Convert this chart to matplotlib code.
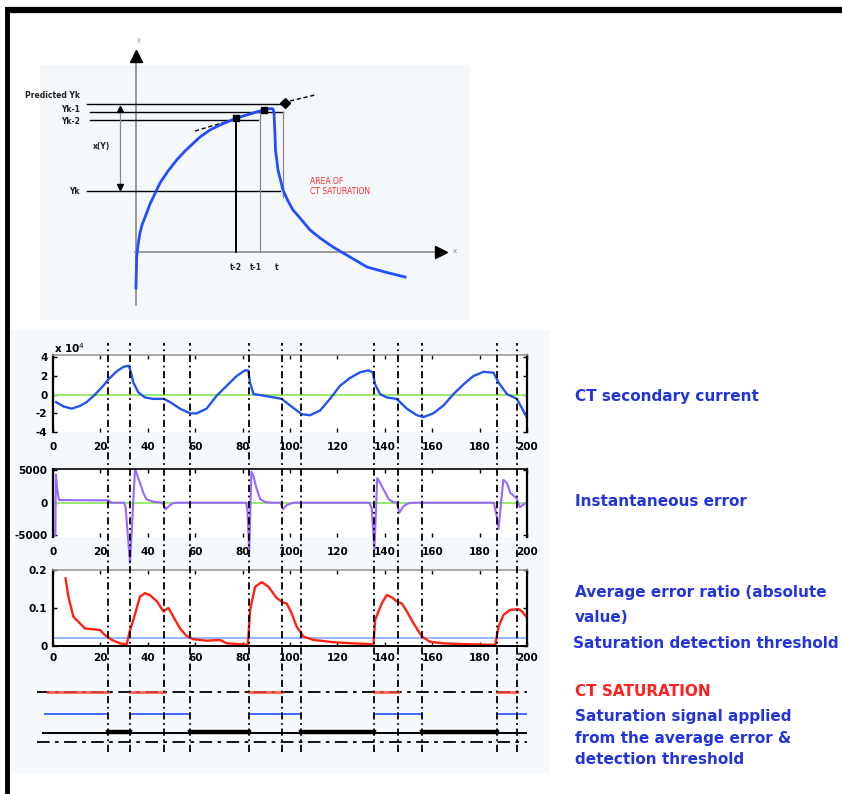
import matplotlib
matplotlib.use("Agg")
import matplotlib.pyplot as plt
from matplotlib.patches import Rectangle
import numpy as np

plt.rcParams["axes.unicode_minus"] = False

W, H = 842, 794

# ---------------- data ----------------
# CT secondary current (x1e4)
cur_t = [1.3, 4.4, 7.9, 11.4, 14.2, 17.7, 21.2, 23.4, 26.9, 29.7, 32.0, 32.8, 33.9, 36.0, 38.8, 42.3,
         46.8, 49.4, 53.6, 57.8, 60.6, 64.8, 69.1, 73.3, 77.5, 81.0, 82.4, 83.1, 84.6, 88.8, 94.4,
         96.5, 100.0, 105.0, 108.5, 112.7, 116.9, 121.1, 125.4, 129.6, 133.1, 134.9, 135.9, 138.0,
         140.8, 145.0, 149.3, 153.5, 156.3, 160.5, 164.8, 169.0, 173.2, 177.4, 181.7, 185.9, 188.0,
         191.5, 195.7, 199.7]
cur_v = [-0.8, -1.26, -1.5, -1.2, -0.8, 0.0, 0.95, 1.65, 2.5, 2.98, 3.1, 2.5, 1.3, 0.25, -0.3, -0.45,
         -0.45, -0.8, -1.5, -2.0, -2.0, -1.5, -0.1, 0.95, 2.0, 2.6, 2.6, 1.3, 0.07, -0.1, -0.35,
         -0.45, -1.15, -2.1, -2.2, -1.7, -0.45, 0.95, 1.8, 2.4, 2.6, 2.4, 1.1, 0.07,
         -0.3, -0.45, -1.5, -2.2, -2.4, -2.0, -1.15, 0.07, 1.1, 2.0, 2.45, 2.35, 1.3,
         0.07, -0.45, -2.3]

# Instantaneous error
err_t = [1.0, 1.2, 1.8, 2.5, 23.4, 24.5, 30.0, 30.6, 32.5, 34.6, 35.3, 36.7, 38.1, 39.5, 42.3, 46.0,
         46.5, 47.5, 49.0, 50.5, 52.0, 81.5, 82.0, 82.8, 83.7, 84.6, 86.0, 87.5, 89.5, 92.0,
         96.0, 97.0, 98.5, 100.5, 102.0, 133.5, 134.5, 135.6, 136.8, 138.1, 139.5, 141.7, 143.5,
         145.0, 146.2, 148.0, 150.0, 152.0, 186.0, 187.2, 188.0, 190.0, 191.5, 193.0, 195.5,
         197.0, 198.4, 200.0]
err_v = [-5000, 4300, 2000, 400, 350, 0, 0, -600, -9200, 5100, 4500, 3000, 1500, 500, 150, 0,
         -200, -1000, -500, -100, 0, 0, -1000, -7500, 4750, 4000, 2000, 500, 100, 0,
         0, -1000, -400, -100, 0, 0, -900, -7250, 3750, 3000, 2000, 500, 100,
         0, -1500, -500, -100, 0, 0, -2000, -4000, 3500, 3000, 1500, 700,
         -700, -300, 0]

# Average error ratio
avg_t = [5.3, 6.5, 8.6, 10.7, 13.5, 17.0, 19.8, 21.9, 24.8, 28.3, 31.1, 32.5, 33.9, 36.7, 38.8, 40.9,
         43.8, 46.6, 48.7, 50.8, 53.6, 56.4, 59.2, 64.9, 70.5, 73.3, 80.3, 82.2, 83.2, 85.3, 88.1,
         90.9, 94.4, 97.2, 98.6, 100.7, 102.8, 105.7, 109.9, 118.3, 126.8, 133.8, 135.2, 135.9,
         138.7, 140.8, 143.0, 145.1, 147.2, 149.3, 152.1, 155.6, 159.1, 164.8, 173.2, 186.6, 188.0,
         190.1, 192.9, 196.5, 197.9, 199.7]
avg_v = [0.178, 0.13, 0.077, 0.064, 0.046, 0.044, 0.042, 0.029, 0.016, 0.007, 0.004, 0.042, 0.068,
         0.13, 0.139, 0.134, 0.118, 0.091, 0.1, 0.077, 0.046, 0.026, 0.018, 0.014, 0.016, 0.007,
         0.004, 0.003, 0.096, 0.156, 0.168, 0.156, 0.126, 0.114, 0.112, 0.086, 0.051, 0.025,
         0.016, 0.01, 0.007, 0.005, 0.003, 0.068, 0.112, 0.134, 0.128, 0.117, 0.112, 0.091,
         0.06, 0.025, 0.011, 0.007, 0.005, 0.003, 0.051, 0.082, 0.095, 0.097, 0.091, 0.077]
threshold = 0.02

# event markers (vertical dash-dot lines)
events = [23.4, 32.5, 46.9, 57.8, 82.5, 96.5, 104.7, 135.3, 145.5, 155.7, 187.3, 195.8]

# CT saturation intervals
sat_start = [-2.0, 32.5, 82.5, 135.3, 187.3]
sat_end = [23.4, 46.9, 96.5, 145.5, 195.8]
# detected saturation signal intervals
det_start = [-3.4, 32.5, 82.5, 135.3, 187.3]
det_end = [23.4, 57.8, 104.7, 155.7, 200.0]

xticks = [0, 20, 40, 60, 80, 100, 120, 140, 160, 180, 200]

# top sketch: saturation curve (diagram units, origin at axes crossing)
sk_x = [0, 0.7, 2, 4, 6, 10.7, 14, 24, 32, 40.7, 49, 64, 74, 84, 100.7, 114, 127, 134, 137, 138,
        138.8, 139.5, 142, 147, 152, 157, 164, 174, 184, 197, 214, 231, 249, 269]
sk_y = [-36, -5, 7, 19, 27, 39, 48, 69, 81, 92, 101, 115, 122, 127, 134, 138, 142, 143.5, 143, 139,
        122, 102, 82, 62, 51, 42, 34, 22, 14, 5, -5, -15, -20, -25]

# ---------------- figure ----------------
fig = plt.figure(figsize=(W / 100, H / 100), dpi=100)

def box(x0, y0, x1, y1):
    return [x0 / W, 1 - y1 / H, (x1 - x0) / W, (y1 - y0) / H]

bg = fig.add_axes([0, 0, 1, 1], zorder=0)
bg.set_xlim(0, W)
bg.set_ylim(H, 0)
bg.axis("off")
bg.add_patch(Rectangle((40, 65), 430, 255, color="#f5f8fb", lw=0))
bg.add_patch(Rectangle((9, 330), 540, 443, color="#f6f9fc", lw=0))
bg.plot([5, W], [10, 10], color="black", lw=4.5, solid_capstyle="butt")
bg.plot([7, 7], [8, H], color="black", lw=3.5, solid_capstyle="butt")

TXT = "#2434dc"
lab = dict(fontsize=11, fontweight="bold", color=TXT, va="center", ha="left")
bg.text(575, 397, "CT secondary current", **lab)
bg.text(575, 502, "Instantaneous error", **lab)
bg.text(575, 593, "Average error ratio (absolute", **lab)
bg.text(575, 617, "value)", **lab)
bg.text(573, 643, "Saturation detection threshold", **lab)
bg.text(575, 692, "CT SATURATION", fontsize=11, fontweight="bold", color="#ff2020",
        va="center", ha="left")
bg.text(575, 717, "Saturation signal applied", **lab)
bg.text(575, 738, "from the average error &", **lab)
bg.text(575, 759, "detection threshold", **lab)

# ---------------- top sketch ----------------
ox, oy = 136, 252
sk = fig.add_axes(box(20, 30, 480, 320), zorder=1)
sk.set_xlim(20 - ox, 480 - ox)
sk.set_ylim(oy - 320, oy - 30)
sk.axis("off")
sk.patch.set_alpha(0)
gray = "#8a8a8a"
sk.plot([0, 0], [oy - 305, oy - 62], color=gray, lw=1.2)
sk.plot(0, oy - 56, marker="^", color="black", ms=8)
sk.plot([-1, 434 - ox], [0, 0], color=gray, lw=1.2)
sk.plot(441 - ox, 0, marker=">", color="black", ms=8)
sk.text(3, oy - 40, "y", fontsize=5, color=gray, ha="center", va="center")
sk.text(455 - ox, 1, "x", fontsize=5, color=gray, ha="center", va="center")

def py(p):
    return oy - p

def px(p):
    return p - ox

sk.plot([px(87), px(285)], [py(104), py(104)], color="black", lw=1.0)
sk.plot([px(90), px(283)], [py(112), py(112)], color="black", lw=1.0)
sk.plot([px(90), px(258)], [py(120), py(120)], color="black", lw=1.0)
sk.plot([px(87), px(280)], [py(191), py(191)], color="black", lw=1.0)
sk.plot([px(236), px(236)], [py(118), 0], color="black", lw=1.4)
sk.plot([px(260), px(260)], [py(112), 0], color=gray, lw=0.9)
sk.plot([px(283), px(283)], [py(112), py(197)], color=gray, lw=0.9)
sk.plot([px(120), px(120)], [py(110), py(186)], color=gray, lw=0.9)
sk.plot(px(120), py(109), marker="^", color="black", ms=5)
sk.plot(px(120), py(187), marker="v", color="black", ms=5)
sk.plot([px(195), px(232)], [py(131), py(120)], color="black", lw=1.0, ls=(0, (3, 2)))
sk.plot([px(290), px(315)], [py(101), py(95)], color="black", lw=1.0, ls=(0, (3, 2)))
sk.plot(sk_x, sk_y, color="#1f4fff", lw=2.0, zorder=3, solid_joinstyle="round")
sk.plot(px(236), py(118), marker="s", color="black", ms=5, zorder=4)
sk.plot(px(264), py(110), marker="s", color="black", ms=5, zorder=4)
sk.plot(px(285), py(103), marker="D", color="black", ms=5, zorder=4)
small = dict(fontsize=5.5, fontweight="bold", color="#222222", va="center")
sk.text(px(80), py(96), "Predicted Yk", ha="right", **small)
sk.text(px(80), py(110), "Yk-1", ha="right", **small)
sk.text(px(80), py(122), "Yk-2", ha="right", **small)
sk.text(px(80), py(191), "Yk", ha="right", **small)
sk.text(px(102), py(146), "x(Y)", ha="center", **small)
sk.text(px(236), py(268), "t-2", ha="center", **small)
sk.text(px(256), py(268), "t-1", ha="center", **small)
sk.text(px(277), py(268), "t", ha="center", **small)
sk.text(px(310), py(181), "AREA OF", ha="left", fontsize=5.5, color="#ff2a2a", va="center")
sk.text(px(310), py(192), "CT SATURATION", ha="left", fontsize=5.5, color="#ff2a2a", va="center")

# ---------------- panels ----------------
def style(ax, top_gray, bottom):
    ax.set_xlim(0, 200)
    ax.set_facecolor("white")
    for s in ("left", "right"):
        ax.spines[s].set_color("black")
        ax.spines[s].set_linewidth(1.6)
    ax.spines["top"].set_color("#999999" if top_gray else "black")
    ax.spines["top"].set_linewidth(1.2)
    ax.spines["bottom"].set_visible(bottom)
    ax.spines["bottom"].set_linewidth(1.4)
    ax.tick_params(direction="in", top=True, right=True, length=3, width=1.0,
                   labelsize=7.5)
    ax.tick_params(axis="x", pad=7)
    ax.tick_params(axis="y", pad=4)
    ax.set_xticks(xticks)
    for lbl in ax.get_xticklabels() + ax.get_yticklabels():
        lbl.set_fontweight("bold")

GREEN = "#9be86a"

a1 = fig.add_axes(box(53, 355, 527, 432), zorder=2)
a1.axhline(0, color=GREEN, lw=1.4)
a1.plot(cur_t, cur_v, color="#2255ee", lw=1.7)
a1.set_ylim(-4, 4.25)
a1.set_yticks([-4, -2, 0, 2, 4])
style(a1, True, False)
a1.text(0.5, 5.0, "x 10$^4$", fontsize=7.5, fontweight="bold", ha="left", va="center")

a2 = fig.add_axes(box(53, 469, 527, 537), zorder=2)
a2.axhline(0, color=GREEN, lw=1.4)
a2.plot(err_t, err_v, color="#9966ff", lw=1.5, clip_on=False)
a2.set_ylim(-5250, 5150)
a2.set_yticks([-5000, 0, 5000])
style(a2, False, False)

a3 = fig.add_axes(box(53, 570, 527, 646), zorder=2)
a3.axhline(threshold, color="#8fb0ff", lw=1.3)
a3.plot(avg_t, avg_v, color="#ff2211", lw=1.7)
a3.set_ylim(0, 0.2)
a3.set_yticks([0, 0.1, 0.2])
a3.set_yticklabels(["0", "0.1", "0.2"])
style(a3, True, True)
a3.tick_params(axis="x", pad=5)

# ---------------- timing signals ----------------
x_left = -(53 - 37) / 474 * 200
at = fig.add_axes(box(37, 680, 527, 750), zorder=3)
at.set_xlim(x_left, 200)
at.set_ylim(750, 680)
at.axis("off")
at.patch.set_alpha(0)
dd = (0, (7, 3, 2, 3))
at.plot([x_left, 200], [692, 692], color="black", lw=1.3, ls=dd)
for s, e in zip(sat_start, sat_end):
    at.plot([s, e], [692, 692], color="#ff4a3a", lw=2.2, alpha=0.8)
for s, e in zip(det_start, det_end):
    at.plot([s, e], [714, 714], color="#2f5fff", lw=1.3)
x_blk = -(53 - 43) / 474 * 200
at.plot([x_blk, 200], [733, 733], color="black", lw=1.4)
for s, e in zip(det_end[:-1], det_start[1:]):
    at.plot([s, e], [732, 732], color="black", lw=3.2)
at.plot([x_left, 200], [742, 742], color="black", lw=1.3, ls=dd)

# ---------------- event verticals ----------------
ov = fig.add_axes(box(53, 343, 527, 752), zorder=5)
ov.set_xlim(0, 200)
ov.set_ylim(0, 1)
ov.axis("off")
ov.patch.set_alpha(0)
for ev in events:
    ov.axvline(ev, color="black", lw=1.3, ls=(0, (4, 2, 1, 2)))

fig.savefig("out.png", dpi=100)
